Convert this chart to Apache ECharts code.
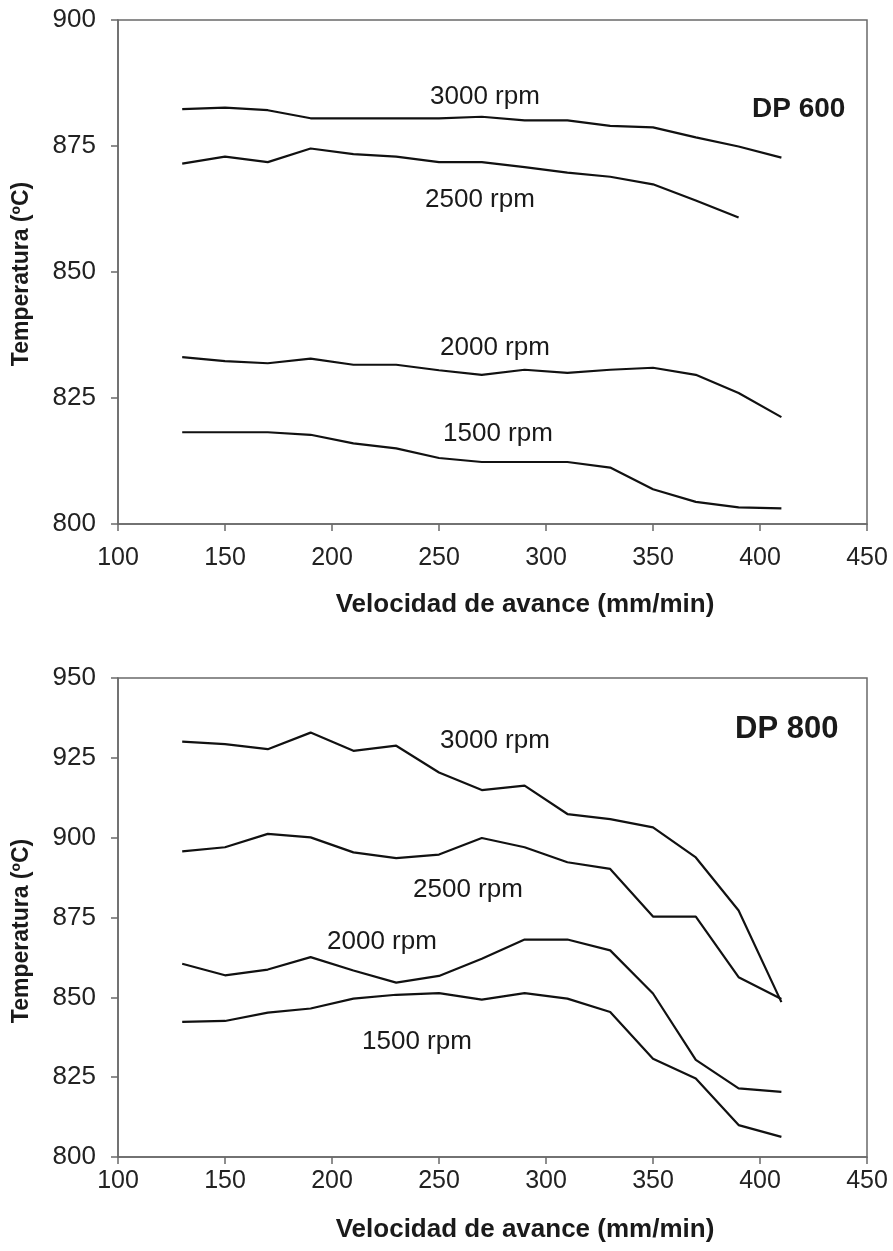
<!DOCTYPE html>
<html>
<head>
<meta charset="utf-8">
<script src="https://cdn.jsdelivr.net/npm/echarts@6/dist/echarts.min.js"></script>
<style>
html,body{margin:0;padding:0;background:#fff;}
#chart{width:893px;height:1251px;}
</style>
</head>
<body>
<div id="chart"></div>
<script>
// ---- data ----
const feedRates = [130,150,170,190,210,230,250,270,290,310,330,350,370,390,410];
const xTicks = [100,150,200,250,300,350,400,450];
const yTicksDP600 = [800,825,850,875,900];
const yTicksDP800 = [800,825,850,875,900,925,950];
const seriesNames = ['3000 rpm','2500 rpm','2000 rpm','1500 rpm'];

const dp600_3000 = [882.3,882.6,882.1,880.5,880.5,880.5,880.5,880.8,880.1,880.1,879.0,878.7,876.7,874.9,872.7];
const dp600_2500 = [871.5,872.9,871.8,874.5,873.4,872.9,871.8,871.8,870.8,869.7,868.9,867.4,864.2,860.8];
const dp600_2000 = [833.1,832.3,831.9,832.8,831.6,831.6,830.5,829.6,830.6,830.0,830.6,831.0,829.6,826.0,821.2];
const dp600_1500 = [818.2,818.2,818.2,817.7,816.0,815.0,813.1,812.3,812.3,812.3,811.2,806.9,804.4,803.3,803.1];

const dp800_3000 = [930.1,929.3,927.7,932.9,927.2,928.8,920.4,914.9,916.3,907.4,905.8,903.2,893.8,877.2,848.5];
const dp800_2500 = [895.7,897.0,901.2,900.1,895.4,893.6,894.7,899.9,897.0,892.3,890.2,875.3,875.3,856.3,849.5];
const dp800_2000 = [860.5,856.9,858.7,862.6,858.4,854.6,856.7,862.1,868.1,868.1,864.7,851.2,830.4,821.5,820.4];
const dp800_1500 = [842.3,842.6,845.2,846.5,849.6,850.8,851.3,849.3,851.3,849.6,845.4,830.8,824.6,810.0,806.3];

const xTitle = 'Velocidad de avance (mm/min)';
const yTitle = 'Temperatura (ºC)';

// ---- chart ----
const FONT = "'Liberation Sans', Arial, sans-serif";
const AX = '#6a6a6a';
const pair = (vals) => vals.map((v, i) => [feedRates[i], v]);

function mkX(gridIndex, margin){
  return {
    type:'value', gridIndex, min:xTicks[0], max:xTicks[xTicks.length-1], interval:50,
    axisLine:{show:true,lineStyle:{color:AX,width:1.5}},
    axisTick:{show:true,inside:false,length:7,lineStyle:{color:AX,width:1.5}},
    axisLabel:{color:'#222',fontSize:25,fontFamily:FONT,margin},
    splitLine:{show:false}
  };
}
function mkY(gridIndex, ticks){
  return {
    type:'value', gridIndex, min:ticks[0], max:ticks[ticks.length-1], interval:25,
    axisLine:{show:true,lineStyle:{color:AX,width:1.5}},
    axisTick:{show:true,inside:false,length:7,lineStyle:{color:AX,width:1.5}},
    axisLabel:{color:'#222',fontSize:26,fontFamily:FONT,margin:22},
    splitLine:{show:false}
  };
}
function mkLine(name, vals, idx){
  return {
    type:'line', name, xAxisIndex:idx, yAxisIndex:idx, data:pair(vals),
    showSymbol:false, symbol:'none', smooth:false, animation:false,
    lineStyle:{color:'#111',width:2.2}
  };
}
function txt(text, x, y, size, bold){
  return {
    type:'text', left:x, top:y,
    style:{text, fill:'#1a1a1a', font:(bold?'bold ':'')+size+'px '+FONT}
  };
}
function ctxt(text, x, y, size, rot){
  return {
    type:'text', x, y, rotation:rot||0,
    style:{text, fill:'#1a1a1a', font:'bold '+size+'px '+FONT, textAlign:'center', textVerticalAlign:'middle'}
  };
}

const chart = echarts.init(document.getElementById('chart'), null, {renderer:'canvas'});
chart.setOption({
  backgroundColor:'#fff',
  animation:false,
  grid:[
    {left:118, top:20, width:749, height:504, show:true, borderColor:AX, borderWidth:1.5, backgroundColor:'transparent'},
    {left:118, top:678, width:749, height:479, show:true, borderColor:AX, borderWidth:1.5, backgroundColor:'transparent'}
  ],
  xAxis:[mkX(0, 22), mkX(1, 12)],
  yAxis:[mkY(0, yTicksDP600), mkY(1, yTicksDP800)],
  series:[
    mkLine(seriesNames[0], dp600_3000, 0),
    mkLine(seriesNames[1], dp600_2500, 0),
    mkLine(seriesNames[2], dp600_2000, 0),
    mkLine(seriesNames[3], dp600_1500, 0),
    mkLine(seriesNames[0], dp800_3000, 1),
    mkLine(seriesNames[1], dp800_2500, 1),
    mkLine(seriesNames[2], dp800_2000, 1),
    mkLine(seriesNames[3], dp800_1500, 1)
  ],
  graphic:[
    txt(seriesNames[0], 430, 84, 26, false),
    txt(seriesNames[1], 425, 187, 26, false),
    txt(seriesNames[2], 440, 335, 26, false),
    txt(seriesNames[3], 443, 421, 26, false),
    txt('DP 600', 752, 95, 28, true),
    txt(seriesNames[0], 440, 728, 26, false),
    txt(seriesNames[1], 413, 877, 26, false),
    txt(seriesNames[2], 327, 929, 26, false),
    txt(seriesNames[3], 362, 1029, 26, false),
    txt('DP 800', 735, 714, 31, true),
    ctxt(xTitle, 525, 605, 26),
    ctxt(xTitle, 525, 1230, 26),
    ctxt(yTitle, 22, 274, 23, Math.PI/2),
    ctxt(yTitle, 22, 931, 23, Math.PI/2)
  ]
});
</script>
</body>
</html>
